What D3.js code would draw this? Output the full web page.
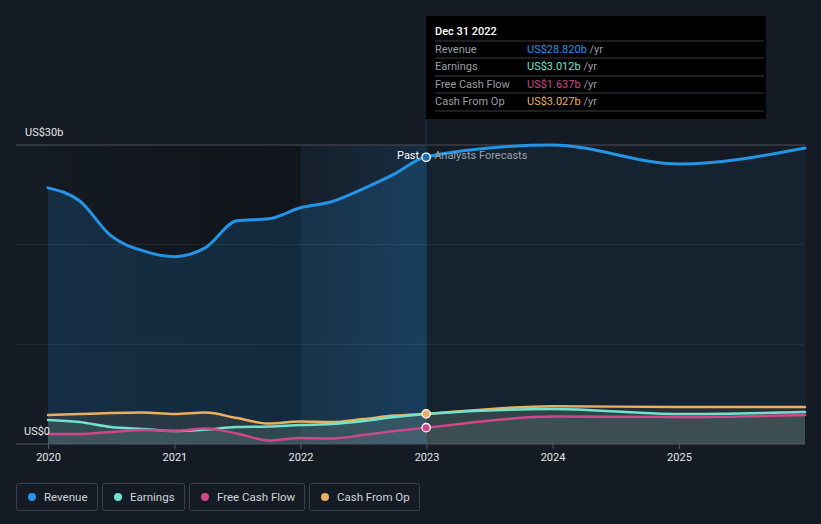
<!DOCTYPE html>
<html><head><meta charset="utf-8">
<script src="https://cdn.jsdelivr.net/npm/d3@7"></script>
<style>
html,body{margin:0;padding:0;background:#151b24;}
svg{display:block;font-family:Roboto,"Open Sans",sans-serif;}
</style></head>
<body><svg id="c" width="821" height="524"></svg>
<script>
// ---- data ----
const pastDates = ["2020-01-01","2020-04-01","2020-07-01","2020-10-01","2021-01-01","2021-04-01","2021-07-01","2021-10-01","2022-01-01","2022-04-01","2022-07-01","2022-10-01","2022-12-31"];
const forecastDates = ["2024-01-01","2025-01-01","2026-01-01"];
const revenuePast = [25.7,24.4,20.9,19.4,18.8,19.7,22.4,22.6,23.7,24.3,25.6,27.1,28.82];
const revenueForecast = [30.0,28.1,29.7];
const earningsPast = [2.4,2.2,1.7,1.5,1.3,1.45,1.7,1.75,1.9,2.0,2.3,2.7,3.012];
const earningsForecast = [3.5,3.0,3.2];
const fcfPast = [1.0,1.0,1.2,1.4,1.3,1.55,1.05,0.35,0.6,0.55,0.9,1.3,1.637];
const fcfForecast = [2.75,2.7,2.9];
const cfoPast = [2.9,3.0,3.1,3.15,3.0,3.15,2.6,2.05,2.25,2.2,2.5,2.85,3.027];
const cfoForecast = [3.8,3.7,3.7];
const yearTicks = ["2020","2021","2022","2023","2024","2025"];
const yTickLabels = [{v:0,t:"US$0"},{v:30,t:"US$30b"}];
const seriesNames = ["Revenue","Earnings","Free Cash Flow","Cash From Op"];
const seriesColors = ["#2394e6","#6fe3cf","#d0488a","#e9b060"];
const tooltipDate = "Dec 31 2022";
const tooltipValues = ["US$28.820b","US$3.012b","US$1.637b","US$3.027b"];

// ---- setup ----
const svg = d3.select("#c");
const parse = d3.timeParse("%Y-%m-%d");
const allDates = pastDates.concat(forecastDates).map(parse);
function mk(p,f){return p.concat(f).map((v,i)=>({d:allDates[i],v}));}
const series = [mk(revenuePast,revenueForecast),mk(earningsPast,earningsForecast),mk(fcfPast,fcfForecast),mk(cfoPast,cfoForecast)];

const x = d3.scaleTime().domain([parse("2020-01-01"),parse("2026-01-01")]).range([48,805]);
const y = d3.scaleLinear().domain([0,30]).range([444,145]);
const nowD = parse("2022-12-31"), bandStart = parse("2022-01-01");
const x0 = x.range()[0], xNow = x(nowD), xB = x(bandStart);

const defs = svg.append("defs");
const g1 = defs.append("linearGradient").attr("id","pastDark").attr("x1",0).attr("x2",1);
g1.append("stop").attr("offset",0).attr("stop-color","#000").attr("stop-opacity",0.05);
g1.append("stop").attr("offset",1).attr("stop-color","#000").attr("stop-opacity",0.25);
const g2 = defs.append("linearGradient").attr("id","band").attr("x1",0).attr("x2",1);
g2.append("stop").attr("offset",0).attr("stop-color","#2394e6").attr("stop-opacity",0.03);
g2.append("stop").attr("offset",1).attr("stop-color","#2394e6").attr("stop-opacity",0.15);

// past background
svg.append("rect").attr("x",x0).attr("y",y(30)).attr("width",xB-x0).attr("height",y(0)-y(30)).attr("fill","url(#pastDark)");
svg.append("rect").attr("x",xB).attr("y",y(30)).attr("width",xNow-xB).attr("height",y(0)-y(30)).attr("fill","url(#band)");

// grid
svg.append("line").attr("x1",16).attr("x2",805).attr("y1",y(30)).attr("y2",y(30)).attr("stroke","#4a4f58").attr("stroke-width",1);
[10,20].forEach(v=>svg.append("line").attr("x1",16).attr("x2",805).attr("y1",y(v)).attr("y2",y(v)).attr("stroke","#ffffff").attr("stroke-opacity",0.08));

// vertical now line
svg.append("line").attr("x1",xNow).attr("x2",xNow).attr("y1",120).attr("y2",y(0)).attr("stroke","#1b3044").attr("stroke-width",1.5);

const curve = d3.curveMonotoneX;
const area = d3.area().x(d=>x(d.d)).y0(y(0)).y1(d=>y(d.v)).curve(curve);
const line = d3.line().x(d=>x(d.d)).y(d=>y(d.v)).curve(curve);

// revenue area
svg.append("clipPath").attr("id","cpPast").append("rect").attr("x",0).attr("y",0).attr("width",xNow).attr("height",524);
svg.append("clipPath").attr("id","cpFut").append("rect").attr("x",xNow).attr("y",0).attr("width",821).attr("height",524);
svg.append("path").datum(series[0]).attr("d",area).attr("fill","#2394e6").attr("fill-opacity",0.17).attr("clip-path","url(#cpPast)");
svg.append("path").datum(series[0]).attr("d",area).attr("fill","#2394e6").attr("fill-opacity",0.07).attr("clip-path","url(#cpFut)");

// lower areas
[3,1,2].forEach(i=>{
  svg.append("path").datum(series[i]).attr("d",area).attr("fill",i===2?"#9a9aa8":seriesColors[i]).attr("fill-opacity",i===2?0.13:0.1);
});

// lines
[0,3,1,2].forEach(i=>{
  svg.append("path").datum(series[i]).attr("d",line).attr("fill","none").attr("stroke",seriesColors[i]).attr("stroke-width",i===0?3:2.5).attr("stroke-linecap","round");
});

// baseline + axis
svg.append("line").attr("x1",16).attr("x2",805).attr("y1",y(0)).attr("y2",y(0)).attr("stroke","#555b64").attr("stroke-width",1);
const axis = d3.axisBottom(x).tickValues(yearTicks.map(t=>parse(t+"-01-01"))).tickFormat(d3.timeFormat("%Y")).tickSize(5).tickPadding(4);
const ax = svg.append("g").attr("transform",`translate(0,${y(0)})`).call(axis);
ax.select(".domain").remove();
ax.selectAll("line").attr("stroke","#555b64");
ax.selectAll("text").attr("fill","#e6e6e6").attr("font-size",11).attr("font-family","Roboto");

// y labels
yTickLabels.forEach(t=>{
  svg.append("text").attr("x",t.v===0?24:25).attr("y",y(t.v)-9).attr("fill","#e6e6e6").attr("font-size",11).text(t.t);
});

// Past / Forecast label
svg.append("text").attr("x",xNow-7).attr("y",y(29)+4).attr("text-anchor","end").attr("fill","#ffffff").attr("font-size",11).text("Past");
svg.append("text").attr("x",xNow+8).attr("y",y(29)+4).attr("fill","#9aa0a8").attr("font-size",11).text("Analysts Forecasts");

// markers
const markerIdx = pastDates.length-1;
[3,2].forEach(i=>{
  const d = series[i][markerIdx];
  svg.append("circle").attr("cx",x(d.d)).attr("cy",y(d.v)).attr("r",4.2)
    .attr("fill",seriesColors[i]).attr("stroke","#ffffff").attr("stroke-width",1.3);
});
svg.append("circle").attr("cx",xNow).attr("cy",y(series[0][markerIdx].v)+0.5).attr("r",4.2).attr("fill","#1a6fb0").attr("stroke","#ffffff").attr("stroke-width",1.3);

// tooltip
const tt = svg.append("g").attr("transform","translate(426,16)");
tt.append("rect").attr("width",340).attr("height",103).attr("fill","#000000");
tt.append("text").attr("x",9).attr("y",19).attr("fill","#ffffff").attr("font-size",11).attr("font-weight",500).text(tooltipDate);
const rowY = [33,50,68,85];
rowY.forEach((ry,i)=>{
  tt.append("line").attr("x1",9).attr("x2",338).attr("y1",ry-8).attr("y2",ry-8).attr("stroke","#3a3d42");
  tt.append("text").attr("x",9).attr("y",ry+4).attr("fill","#9a9ea5").attr("font-size",11).text(seriesNames[i]);
  const t = tt.append("text").attr("x",101).attr("y",ry+4).attr("font-size",11);
  t.append("tspan").attr("fill",seriesColors[i]).text(tooltipValues[i]);
  t.append("tspan").attr("fill","#9a9ea5").text(" /yr");
});
tt.append("line").attr("x1",9).attr("x2",338).attr("y1",95).attr("y2",95).attr("stroke","#3a3d42");

// legend
const lg = svg.append("g").attr("transform","translate(16,483)");
let lx = 0;
const widths = [81,82,115,110];
seriesNames.forEach((n,i)=>{
  const g = lg.append("g").attr("transform",`translate(${lx},0)`);
  g.append("rect").attr("x",0.5).attr("y",0.5).attr("width",widths[i]).attr("height",27).attr("rx",2).attr("fill","none").attr("stroke","#3b414b");
  g.append("circle").attr("cx",16).attr("cy",14).attr("r",4).attr("fill",seriesColors[i]);
  g.append("text").attr("x",28).attr("y",18).attr("fill","#d0d3d8").attr("font-size",11.5).text(n);
  lx += widths[i]+5;
});
</script></body></html>
